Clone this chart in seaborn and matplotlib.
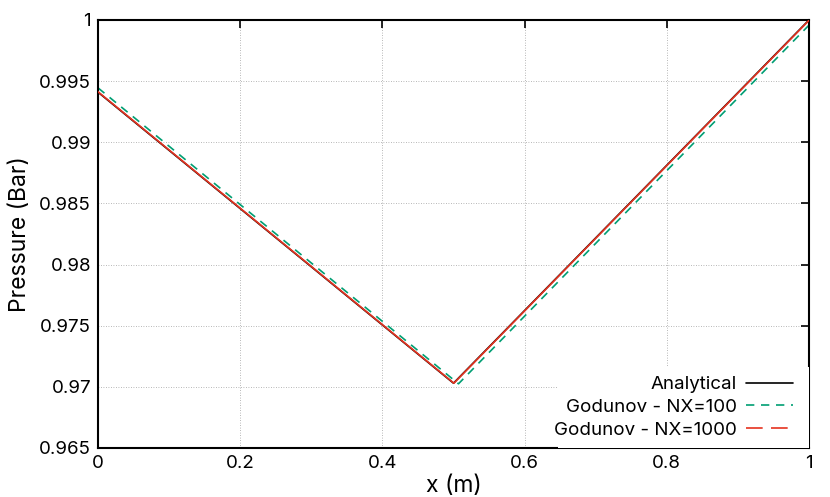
import numpy as np
import pandas as pd
import matplotlib
matplotlib.use('Agg')
import matplotlib.pyplot as plt
from matplotlib.lines import Line2D
from matplotlib.patches import Rectangle
import seaborn as sns

# Pressure profiles (kinks near the pipe midpoint)
x_analytical = [0.0, 0.5, 1.0]
p_analytical = [0.9941, 0.9703, 1.0]

x_nx100 = [0.0, 0.507, 1.0]
p_nx100 = [0.99445, 0.97025, 0.99958]

x_nx1000 = [0.0, 0.5005, 1.0]
p_nx1000 = [0.99413, 0.9703, 0.99997]

labels = ["Analytical", "Godunov - NX=100", "Godunov - NX=1000"]
colors = ["black", "#009e73", "#e5321f"]

x_ticks = [0, 0.2, 0.4, 0.6, 0.8, 1]
x_ticklabels = ["0", "0.2", "0.4", "0.6", "0.8", "1"]
y_ticks = [0.965, 0.97, 0.975, 0.98, 0.985, 0.99, 0.995, 1.0]
y_ticklabels = ["0.965", "0.97", "0.975", "0.98", "0.985", "0.99", "0.995", "1"]

sns.set_theme(style="white")
plt.rcParams['font.family'] = ['Inter', 'DejaVu Sans']
plt.rcParams['text.color'] = 'black'
plt.rcParams['axes.labelcolor'] = 'black'

fig = plt.figure(figsize=(8.3, 4.97), dpi=100)
ax = fig.add_axes([98/830, 1 - 448/497, (809 - 98)/830, (448 - 20)/497])

sns.lineplot(x=x_analytical, y=p_analytical, ax=ax, color=colors[0], lw=1.2, zorder=3)
sns.lineplot(x=x_nx100, y=p_nx100, ax=ax, color=colors[1], lw=1.2, zorder=2)
ax.lines[-1].set_dashes([5, 4])
sns.lineplot(x=x_nx1000, y=p_nx1000, ax=ax, color=colors[2], lw=1.2, zorder=4)

ax.set_xlim(0, 1)
ax.set_ylim(0.965, 1.0)
ax.set_xticks(x_ticks)
ax.set_xticklabels(x_ticklabels)
ax.set_yticks(y_ticks)
ax.set_yticklabels(y_ticklabels)

ax.grid(True, color="#a0a0a0", linestyle=(0, (1, 2)), linewidth=0.6)
ax.tick_params(direction="in", length=6, width=1.2, top=True, right=True,
               labelsize=13.5, colors="black", pad=5)
for s in ax.spines.values():
    s.set_color("black")
    s.set_linewidth(1.5)

ax.set_xlabel("x (m)", fontsize=16.5, labelpad=2)
ax.set_ylabel("Pressure (Bar)", fontsize=16.5, labelpad=6)

# white key background (gnuplot style opaque key, no border)
ax.add_patch(Rectangle((0.647, 0), 0.353, 0.189, transform=ax.transAxes,
                       facecolor="white", edgecolor="none", zorder=4.5))

handles = [
    Line2D([], [], color=colors[0], lw=1.2),
    Line2D([], [], color=colors[1], lw=1.2, dashes=[5, 4]),
    Line2D([], [], color=colors[2], lw=1.2, dashes=[10, 5]),
]
leg = ax.legend(handles, labels, loc="lower right", markerfirst=False,
                fontsize=13.5, frameon=False, borderpad=0, borderaxespad=0,
                bbox_to_anchor=((793 - 98)/711, 0.022),
                handlelength=2.5, labelspacing=0.3, handletextpad=0.5)
leg.set_zorder(5)

fig.savefig("out.png", dpi=100)
